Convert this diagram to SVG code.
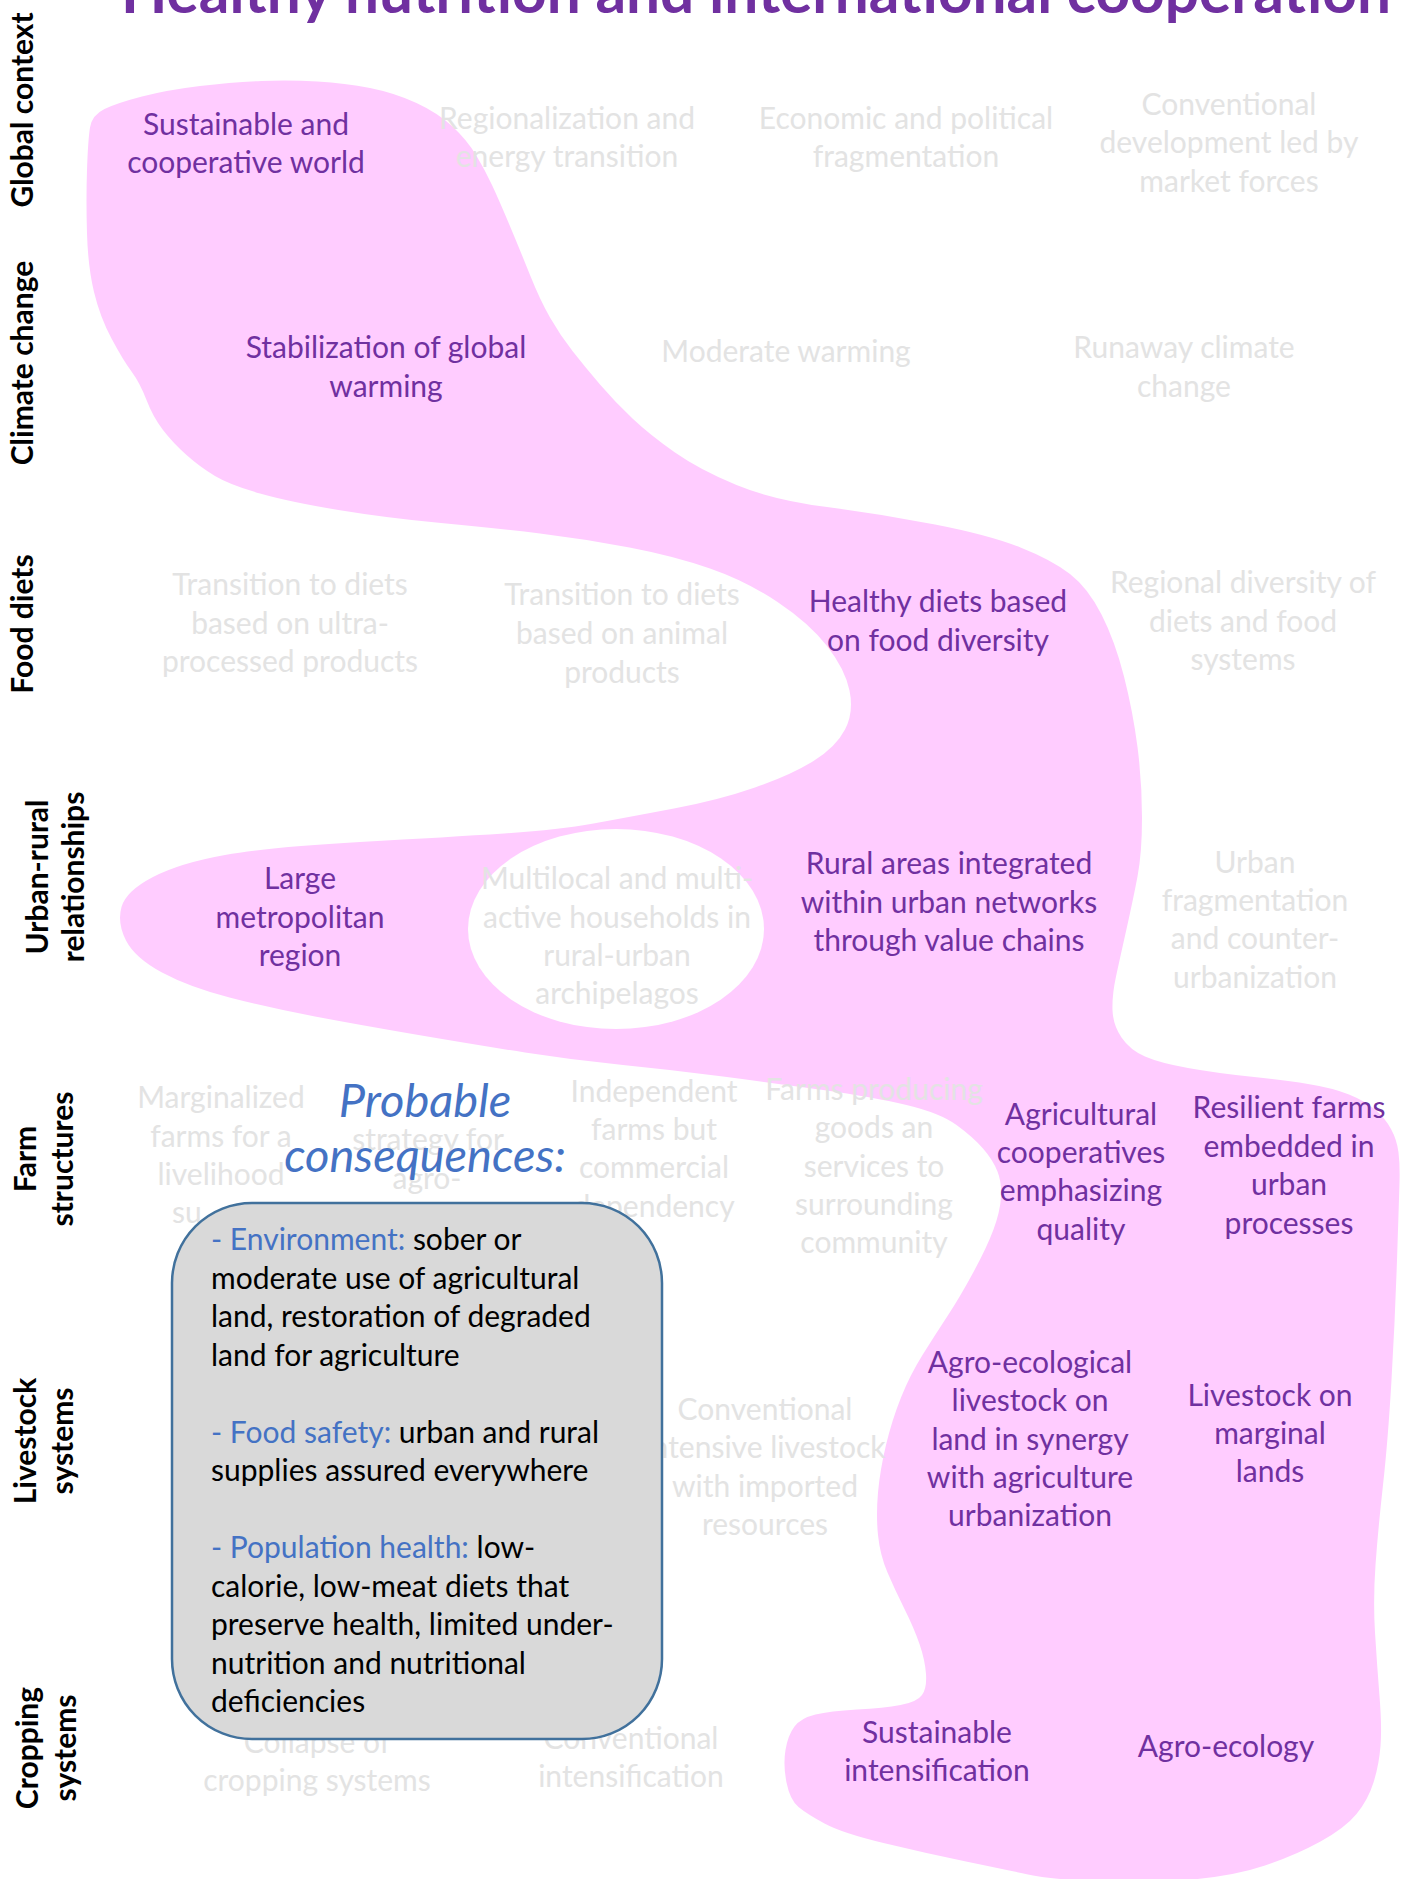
<svg xmlns="http://www.w3.org/2000/svg" width="1403" height="1879" viewBox="0 0 1403 1879">
<style>
text{font-family:Lato,"Open Sans","DejaVu Sans",sans-serif}
.t{font-size:30px;text-anchor:middle}
.p{fill:#7030A0}
.g{fill:#E3E3E3}
.lbl{font-size:30px;font-weight:bold;text-anchor:middle;fill:#000}
.bx{font-size:30px;fill:#000}
.bl{fill:#4472C4}
.title{font-size:60px;font-weight:bold;fill:#7030A0}
.cons{font-size:47px;font-style:italic;fill:#4472C4;text-anchor:middle}
</style>
<rect width="1403" height="1879" fill="#FFFFFF"/>
<g id="scenario-path">
<path fill="#FFCCFF" d="M90,127.5 Q92,115 104.5,109 Q117,103 142,96.5 Q167,90 200,86 Q233,82 261.5,81 Q290,80 317.5,81.5 Q345,83 370,88 Q395,93 416.5,103 Q438,113 452.5,126.5 Q467,140 476,155 Q485,170 492,185 Q499,200 509.5,225 Q520,250 530,275 Q540,300 550,317.5 Q560,335 572.5,351 Q585,367 600,384.5 Q615,402 632.5,418.5 Q650,435 675,452.5 Q700,470 736.5,485 Q773,500 827,507 Q881,514 935,524.5 Q989,535 1020.5,547.5 Q1052,560 1070,574 Q1088,588 1101.5,614.5 Q1115,641 1124,676.5 Q1133,712 1137.5,747 Q1142,782 1142,817.5 Q1142,853 1137.5,876.5 Q1133,900 1126.5,929 Q1120,958 1116,976.5 Q1112,995 1112.5,1010 Q1113,1025 1121.5,1037.5 Q1130,1050 1145,1056.5 Q1160,1063 1188,1068 Q1216,1073 1249.5,1076.5 Q1283,1080 1308,1084 Q1333,1088 1349,1094.5 Q1365,1101 1375,1109.5 Q1385,1118 1391,1129 Q1397,1140 1398.5,1152.5 Q1400,1165 1399.5,1182.5 Q1399,1200 1397,1260 Q1395,1320 1391.5,1380 Q1388,1440 1383,1485 Q1378,1530 1375.5,1565 Q1373,1600 1375,1632.5 Q1377,1665 1379.5,1696 Q1382,1727 1380.5,1746 Q1379,1765 1373.5,1782.5 Q1368,1800 1356.5,1814 Q1345,1828 1320.5,1841.5 Q1296,1855 1265,1865.5 Q1234,1876 1187,1880 Q1140,1884 1094.5,1881.5 Q1049,1879 1028,1874.5 Q1007,1870 966,1861.5 Q925,1853 883.5,1843 Q842,1833 824.5,1823.5 Q807,1814 798.5,1807 Q790,1800 786.5,1782.5 Q783,1765 785.5,1750 Q788,1735 794.5,1726.5 Q801,1718 815.5,1714.5 Q830,1711 857,1709.5 Q884,1708 900.5,1705 Q917,1702 922,1695 Q927,1688 926,1674 Q925,1660 919.5,1644 Q914,1628 904.5,1609 Q895,1590 887.5,1572.5 Q880,1555 878,1535 Q876,1515 878,1492.5 Q880,1470 886,1445 Q892,1420 901,1397.5 Q910,1375 922.5,1355 Q935,1335 947.5,1316 Q960,1297 973.5,1272 Q987,1247 993.5,1229.5 Q1000,1212 1001,1197.5 Q1002,1183 997.5,1171.5 Q993,1160 983,1148.5 Q973,1137 956.5,1125 Q940,1113 906.5,1105 Q873,1097 823,1090 Q773,1083 723,1076.5 Q673,1070 623,1065 Q573,1060 525,1052.5 Q477,1045 418.5,1035 Q360,1025 315,1016.5 Q270,1008 229.5,997.5 Q189,987 162,972.5 Q135,958 126,940.5 Q117,923 121.5,907 Q126,891 153,877 Q180,863 225,855 Q270,847 360,842 Q450,837 504,833.5 Q558,830 593.5,823.5 Q629,817 674,808.5 Q719,800 755,787.5 Q791,775 813.5,761 Q836,747 845,729.5 Q854,712 849.5,690.5 Q845,669 827,646 Q809,623 777.5,602 Q746,581 710,568.5 Q674,556 629.5,547.5 Q585,539 540,533.5 Q495,528 441,523 Q387,518 338.5,510 Q290,502 260,493.5 Q230,485 215,476 Q200,467 186.5,455 Q173,443 163,430 Q153,417 146.5,400 Q140,383 131.5,371.5 Q123,360 111.5,338.5 Q100,317 94,292 Q88,267 87,233.5 Q86,200 87,170 Q88,140 90,127.5 Z"/>
<ellipse cx="616" cy="929" rx="148" ry="100" fill="#FFFFFF"/>
</g>
<g id="title"><text class="title" x="121" y="13" textLength="1270" lengthAdjust="spacingAndGlyphs">Healthy nutrition and international cooperation</text></g>
<g id="row-labels">
<text class="lbl" transform="translate(33,110) rotate(-90)">Global context</text>
<text class="lbl" transform="translate(33,363) rotate(-90)">Climate change</text>
<text class="lbl" transform="translate(33,624) rotate(-90)">Food diets</text>
<text class="lbl" transform="translate(48,877) rotate(-90)">Urban-rural</text>
<text class="lbl" transform="translate(84,877) rotate(-90)">relationships</text>
<text class="lbl" transform="translate(36,1159) rotate(-90)">Farm</text>
<text class="lbl" transform="translate(73,1159) rotate(-90)">structures</text>
<text class="lbl" transform="translate(36,1441) rotate(-90)">Livestock</text>
<text class="lbl" transform="translate(73,1441) rotate(-90)">systems</text>
<text class="lbl" transform="translate(38,1748) rotate(-90)">Cropping</text>
<text class="lbl" transform="translate(76,1748) rotate(-90)">systems</text>
</g>
<g id="n-regionalization"><text class="t g" x="567" y="129">Regionalization and</text><text class="t g" x="567" y="167">energy transition</text></g>
<g id="n-fragmentation"><text class="t g" x="906" y="129">Economic and political</text><text class="t g" x="906" y="167">fragmentation</text></g>
<g id="n-conventional-development"><text class="t g" x="1229" y="115">Conventional</text><text class="t g" x="1229" y="153">development led by</text><text class="t g" x="1229" y="192">market forces</text></g>
<g id="n-moderate"><text class="t g" x="786" y="362">Moderate warming</text></g>
<g id="n-runaway"><text class="t g" x="1184" y="358">Runaway climate</text><text class="t g" x="1184" y="397">change</text></g>
<g id="n-ultra"><text class="t g" x="290" y="595">Transition to diets</text><text class="t g" x="290" y="634">based on ultra-</text><text class="t g" x="290" y="672">processed products</text></g>
<g id="n-animal"><text class="t g" x="622" y="605">Transition to diets</text><text class="t g" x="622" y="644">based on animal</text><text class="t g" x="622" y="683">products</text></g>
<g id="n-regional"><text class="t g" x="1243" y="593">Regional diversity of</text><text class="t g" x="1243" y="632">diets and food</text><text class="t g" x="1243" y="670">systems</text></g>
<g id="n-multilocal"><text class="t g" x="617" y="889">Multilocal and multi-</text><text class="t g" x="617" y="928">active households in</text><text class="t g" x="617" y="966">rural-urban</text><text class="t g" x="617" y="1004">archipelagos</text></g>
<g id="n-urban-fragmentation"><text class="t g" x="1255" y="873">Urban</text><text class="t g" x="1255" y="911">fragmentation</text><text class="t g" x="1255" y="949">and counter-</text><text class="t g" x="1255" y="988">urbanization</text></g>
<g id="n-marginalized"><text class="t g" x="221" y="1108">Marginalized</text><text class="t g" x="221" y="1147">farms for a</text><text class="t g" x="221" y="1185">livelihood</text><text class="g" font-size="30" x="172" y="1223">su</text></g>
<g id="n-strategy"><text class="t g" x="428" y="1150">strategy for</text><text class="t g" x="427" y="1189">agro-</text></g>
<g id="n-independent"><text class="t g" x="654" y="1102">Independent</text><text class="t g" x="654" y="1140">farms but</text><text class="t g" x="654" y="1178">commercial</text><text class="t g" x="654" y="1217">dependency</text></g>
<g id="n-farms-producing"><text class="t g" x="874" y="1100">Farms producing</text><text class="t g" x="874" y="1138">goods an</text><text class="t g" x="874" y="1177">services to</text><text class="t g" x="874" y="1215">surrounding</text><text class="t g" x="874" y="1253">community</text></g>
<g id="n-conv-livestock"><text class="t g" x="765" y="1420">Conventional</text><text class="t g" x="765" y="1458">intensive livestock</text><text class="t g" x="765" y="1497">with imported</text><text class="t g" x="765" y="1535">resources</text></g>
<g id="n-collapse"><text class="t g" x="317" y="1753">Collapse of</text><text class="t g" x="317" y="1791">cropping systems</text></g>
<g id="n-conv-intensification"><text class="t g" x="631" y="1749">Conventional</text><text class="t g" x="631" y="1787">intensification</text></g>
<g id="n-sustainable"><text class="t p" x="246" y="135">Sustainable and</text><text class="t p" x="246" y="173">cooperative world</text></g>
<g id="n-stabilization"><text class="t p" x="386" y="358">Stabilization of global</text><text class="t p" x="386" y="397">warming</text></g>
<g id="n-healthy"><text class="t p" x="938" y="612">Healthy diets based</text><text class="t p" x="938" y="651">on food diversity</text></g>
<g id="n-metro"><text class="t p" x="300" y="889">Large</text><text class="t p" x="300" y="928">metropolitan</text><text class="t p" x="300" y="966">region</text></g>
<g id="n-rural-integrated"><text class="t p" x="949" y="874">Rural areas integrated</text><text class="t p" x="949" y="913">within urban networks</text><text class="t p" x="949" y="951">through value chains</text></g>
<g id="n-agri-coop"><text class="t p" x="1081" y="1125">Agricultural</text><text class="t p" x="1081" y="1163">cooperatives</text><text class="t p" x="1081" y="1201">emphasizing</text><text class="t p" x="1081" y="1240">quality</text></g>
<g id="n-resilient"><text class="t p" x="1289" y="1118">Resilient farms</text><text class="t p" x="1289" y="1157">embedded in</text><text class="t p" x="1289" y="1195">urban</text><text class="t p" x="1289" y="1234">processes</text></g>
<g id="n-agro-livestock"><text class="t p" x="1030" y="1373">Agro-ecological</text><text class="t p" x="1030" y="1411">livestock on</text><text class="t p" x="1030" y="1450">land in synergy</text><text class="t p" x="1030" y="1488">with agriculture</text><text class="t p" x="1030" y="1526">urbanization</text></g>
<g id="n-marginal-lands"><text class="t p" x="1270" y="1406">Livestock on</text><text class="t p" x="1270" y="1444">marginal</text><text class="t p" x="1270" y="1482">lands</text></g>
<g id="n-sust-intensification"><text class="t p" x="937" y="1743">Sustainable</text><text class="t p" x="937" y="1781">intensification</text></g>
<g id="n-agroecology"><text class="t p" x="1226" y="1757">Agro-ecology</text></g>
<g id="consequences-heading"><text class="cons" x="425" y="1117">Probable</text><text class="cons" x="425" y="1172">consequences:</text></g>
<g id="consequences-box">
<rect x="172" y="1203" width="490" height="536" rx="80" ry="80" fill="#D9D9D9" stroke="#41719C" stroke-width="2.5"/>
<text class="bx" x="211" y="1250"><tspan class="bl">- Environment:</tspan> sober or</text>
<text class="bx" x="211" y="1288.5">moderate use of agricultural</text>
<text class="bx" x="211" y="1327">land, restoration of degraded</text>
<text class="bx" x="211" y="1365.5">land for agriculture</text>
<text class="bx" x="211" y="1442.5"><tspan class="bl">- Food safety:</tspan> urban and rural</text>
<text class="bx" x="211" y="1481">supplies assured everywhere</text>
<text class="bx" x="211" y="1558"><tspan class="bl">- Population health:</tspan> low-</text>
<text class="bx" x="211" y="1596.5">calorie, low-meat diets that</text>
<text class="bx" x="211" y="1635">preserve health, limited under-</text>
<text class="bx" x="211" y="1673.5">nutrition and nutritional</text>
<text class="bx" x="211" y="1712">deficiencies</text>
</g>
</svg>
